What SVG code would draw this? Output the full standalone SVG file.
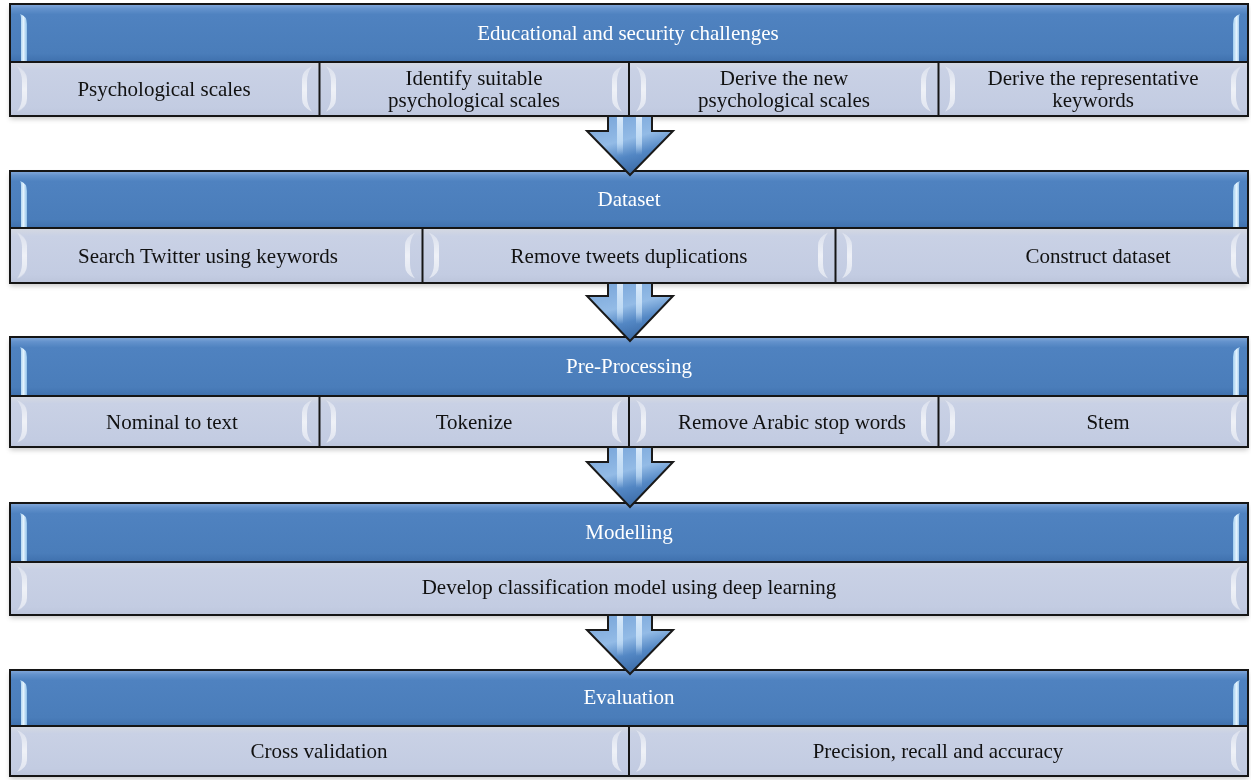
<svg xmlns="http://www.w3.org/2000/svg" xmlns:xlink="http://www.w3.org/1999/xlink" width="1251" height="780" viewBox="0 0 1251 780">
<style>
.hd{fill:url(#gHead);stroke:none}
.sb{fill:url(#gSub);stroke:none}
.frame{fill:none;stroke:#151515;stroke-width:2}
.ln{stroke:#151515;stroke-width:2}
.ht{font-family:"Liberation Serif","Times New Roman",serif;font-size:21px;fill:#ffffff;text-anchor:middle}
.st{font-family:"Liberation Serif","Times New Roman",serif;font-size:21px;fill:#111111;text-anchor:middle}
.hl{fill:url(#gHl)}
.br{fill:url(#gBr);opacity:0.8}
.arrow{fill:url(#gArrow);stroke:#1a1a1a;stroke-width:2;stroke-linejoin:miter}
.stripe{fill:url(#gStripe)}
</style>
<defs>
<linearGradient id="gHead" x1="0" y1="0" x2="0" y2="1">
<stop offset="0" stop-color="#86aadb"/>
<stop offset="0.08" stop-color="#6392cc"/>
<stop offset="0.18" stop-color="#4f82c0"/>
<stop offset="0.85" stop-color="#4a7dba"/>
<stop offset="1" stop-color="#3f70ad"/>
</linearGradient>
<linearGradient id="gSub" x1="0" y1="0" x2="0" y2="1">
<stop offset="0" stop-color="#d5d9e2"/>
<stop offset="0.15" stop-color="#c9d1e5"/>
<stop offset="0.85" stop-color="#c3cce2"/>
<stop offset="1" stop-color="#bcc5db"/>
</linearGradient>
<linearGradient id="gHl" x1="0" y1="0" x2="1" y2="0">
<stop offset="0" stop-color="#9fcdf0"/>
<stop offset="0.5" stop-color="#e4f3fd"/>
<stop offset="1" stop-color="#8fc0ea"/>
</linearGradient>
<linearGradient id="gBr" x1="0" y1="0" x2="0" y2="1">
<stop offset="0" stop-color="#ffffff" stop-opacity="0.4"/>
<stop offset="0.5" stop-color="#ffffff" stop-opacity="0.9"/>
<stop offset="1" stop-color="#ffffff" stop-opacity="0.6"/>
</linearGradient>
<linearGradient id="gArrow" x1="0" y1="0" x2="0.4" y2="1">
<stop offset="0" stop-color="#76a3d8"/>
<stop offset="0.5" stop-color="#93bbe6"/>
<stop offset="0.75" stop-color="#5387c4"/>
<stop offset="1" stop-color="#3d6da9"/>
</linearGradient>
<linearGradient id="gStripe" x1="0" y1="0" x2="0" y2="1">
<stop offset="0" stop-color="#eaf5ff" stop-opacity="0.85"/>
<stop offset="0.7" stop-color="#d4eafc" stop-opacity="0.6"/>
<stop offset="1" stop-color="#cfe6fb" stop-opacity="0"/>
</linearGradient>
<filter id="shadow" x="-2%" y="-10%" width="104%" height="125%">
<feDropShadow dx="0" dy="3" stdDeviation="2.5" flood-color="#000" flood-opacity="0.22"/>
</filter>
<path id="bl" d="M0 4 Q10 8 10 16 V34 Q10 42 0 46 Q5 40 5 32 V18 Q5 10 0 4Z"/>
<path id="brr" d="M0 4 Q-10 8 -10 16 V34 Q-10 42 0 46 Q-5 40 -5 32 V18 Q-5 10 0 4Z"/>
</defs>

<!-- Layer 1 -->
<g id="layer-1">
<rect x="10" y="4" width="1238" height="112" fill="#c5cde2" filter="url(#shadow)"/>
<rect class="hd" x="10" y="4" width="1238" height="58"/>
<rect class="sb" x="10" y="62" width="1238" height="54"/>
<path class="hl" d="M20 14 Q27 16 27 24 V62 H21 V18 Q21 15 20 14Z"/>
<path class="hl" d="M1240 14 Q1233 16 1233 24 V62 H1239 V18 Q1239 15 1240 14Z"/>
<g class="br">
<use href="#bl" transform="translate(17,62) scale(1,1.08)"/>
<use href="#brr" transform="translate(312,62) scale(1,1.08)"/>
<use href="#bl" transform="translate(326,62) scale(1,1.08)"/>
<use href="#brr" transform="translate(622,62) scale(1,1.08)"/>
<use href="#bl" transform="translate(636,62) scale(1,1.08)"/>
<use href="#brr" transform="translate(931,62) scale(1,1.08)"/>
<use href="#bl" transform="translate(945,62) scale(1,1.08)"/>
<use href="#brr" transform="translate(1241,62) scale(1,1.08)"/>
</g>
<line class="ln" x1="10" y1="62" x2="1248" y2="62"/>
<line class="ln" x1="319.5" y1="62" x2="319.5" y2="116"/>
<line class="ln" x1="629" y1="62" x2="629" y2="116"/>
<line class="ln" x1="938.5" y1="62" x2="938.5" y2="116"/>
<rect class="frame" x="10" y="4" width="1238" height="112"/>
<text class="ht" x="628" y="40">Educational and security challenges</text>
<text class="st" x="164" y="96">Psychological scales</text>
<text class="st" x="474" y="85">Identify suitable</text>
<text class="st" x="474" y="107">psychological scales</text>
<text class="st" x="784" y="85">Derive the new</text>
<text class="st" x="784" y="107">psychological scales</text>
<text class="st" x="1093" y="85">Derive the representative</text>
<text class="st" x="1093" y="107">keywords</text>
</g>

<!-- Layer 2 -->
<g id="layer-2">
<rect x="10" y="171" width="1238" height="112" fill="#c5cde2" filter="url(#shadow)"/>
<rect class="hd" x="10" y="171" width="1238" height="57"/>
<rect class="sb" x="10" y="228" width="1238" height="55"/>
<path class="hl" d="M20 181 Q27 183 27 191 V228 H21 V185 Q21 182 20 181Z"/>
<path class="hl" d="M1240 181 Q1233 183 1233 191 V228 H1239 V185 Q1239 182 1240 181Z"/>
<g class="br">
<use href="#bl" transform="translate(17,228) scale(1,1.1)"/>
<use href="#brr" transform="translate(415,228) scale(1,1.1)"/>
<use href="#bl" transform="translate(429,228) scale(1,1.1)"/>
<use href="#brr" transform="translate(828,228) scale(1,1.1)"/>
<use href="#bl" transform="translate(842,228) scale(1,1.1)"/>
<use href="#brr" transform="translate(1241,228) scale(1,1.1)"/>
</g>
<line class="ln" x1="10" y1="228" x2="1248" y2="228"/>
<line class="ln" x1="422.5" y1="228" x2="422.5" y2="283"/>
<line class="ln" x1="835.5" y1="228" x2="835.5" y2="283"/>
<rect class="frame" x="10" y="171" width="1238" height="112"/>
<text class="ht" x="629" y="206">Dataset</text>
<text class="st" x="208" y="263">Search Twitter using keywords</text>
<text class="st" x="629" y="263">Remove tweets duplications</text>
<text class="st" x="1098" y="263">Construct dataset</text>
</g>

<!-- Layer 3 -->
<g id="layer-3">
<rect x="10" y="337" width="1238" height="110" fill="#c5cde2" filter="url(#shadow)"/>
<rect class="hd" x="10" y="337" width="1238" height="59"/>
<rect class="sb" x="10" y="396" width="1238" height="51"/>
<path class="hl" d="M20 347 Q27 349 27 357 V396 H21 V351 Q21 348 20 347Z"/>
<path class="hl" d="M1240 347 Q1233 349 1233 357 V396 H1239 V351 Q1239 348 1240 347Z"/>
<g class="br">
<use href="#bl" transform="translate(17,396) scale(1,1.02)"/>
<use href="#brr" transform="translate(312,396) scale(1,1.02)"/>
<use href="#bl" transform="translate(326,396) scale(1,1.02)"/>
<use href="#brr" transform="translate(622,396) scale(1,1.02)"/>
<use href="#bl" transform="translate(636,396) scale(1,1.02)"/>
<use href="#brr" transform="translate(931,396) scale(1,1.02)"/>
<use href="#bl" transform="translate(945,396) scale(1,1.02)"/>
<use href="#brr" transform="translate(1241,396) scale(1,1.02)"/>
</g>
<line class="ln" x1="10" y1="396" x2="1248" y2="396"/>
<line class="ln" x1="319.5" y1="396" x2="319.5" y2="447"/>
<line class="ln" x1="629" y1="396" x2="629" y2="447"/>
<line class="ln" x1="938.5" y1="396" x2="938.5" y2="447"/>
<rect class="frame" x="10" y="337" width="1238" height="110"/>
<text class="ht" x="629" y="373">Pre-Processing</text>
<text class="st" x="172" y="429">Nominal to text</text>
<text class="st" x="474" y="429">Tokenize</text>
<text class="st" x="792" y="429">Remove Arabic stop words</text>
<text class="st" x="1108" y="429">Stem</text>
</g>

<!-- Layer 4 -->
<g id="layer-4">
<rect x="10" y="503" width="1238" height="112" fill="#c5cde2" filter="url(#shadow)"/>
<rect class="hd" x="10" y="503" width="1238" height="59"/>
<rect class="sb" x="10" y="562" width="1238" height="53"/>
<path class="hl" d="M20 513 Q27 515 27 523 V562 H21 V517 Q21 514 20 513Z"/>
<path class="hl" d="M1240 513 Q1233 515 1233 523 V562 H1239 V517 Q1239 514 1240 513Z"/>
<g class="br">
<use href="#bl" transform="translate(17,562) scale(1,1.06)"/>
<use href="#brr" transform="translate(1241,562) scale(1,1.06)"/>
</g>
<line class="ln" x1="10" y1="562" x2="1248" y2="562"/>
<rect class="frame" x="10" y="503" width="1238" height="112"/>
<text class="ht" x="629" y="539">Modelling</text>
<text class="st" x="629" y="594">Develop classification model using deep learning</text>
</g>

<!-- Layer 5 -->
<g id="layer-5">
<rect x="10" y="670" width="1238" height="106" fill="#c5cde2" filter="url(#shadow)"/>
<rect class="hd" x="10" y="670" width="1238" height="56"/>
<rect class="sb" x="10" y="726" width="1238" height="50"/>
<path class="hl" d="M20 680 Q27 682 27 690 V726 H21 V684 Q21 681 20 680Z"/>
<path class="hl" d="M1240 680 Q1233 682 1233 690 V726 H1239 V684 Q1239 681 1240 680Z"/>
<g class="br">
<use href="#bl" transform="translate(17,726)"/>
<use href="#brr" transform="translate(622,726)"/>
<use href="#bl" transform="translate(636,726)"/>
<use href="#brr" transform="translate(1241,726)"/>
</g>
<line class="ln" x1="10" y1="726" x2="1248" y2="726"/>
<line class="ln" x1="629" y1="726" x2="629" y2="776"/>
<rect class="frame" x="10" y="670" width="1238" height="106"/>
<text class="ht" x="629" y="704">Evaluation</text>
<text class="st" x="319" y="758">Cross validation</text>
<text class="st" x="938" y="758">Precision, recall and accuracy</text>
</g>

<!-- Connectors -->
<g id="connectors">
<g id="arrow-1">
<path class="arrow" d="M608 116 H652 V131 H673 L630 175 L587 131 H608 Z"/>
<rect class="stripe" x="617" y="117" width="6" height="38"/>
<rect class="stripe" x="636" y="117" width="6" height="38"/>
</g>
<g id="arrow-2">
<path class="arrow" d="M608 283 H652 V296 H673 L630 341 L587 296 H608 Z"/>
<rect class="stripe" x="617" y="284" width="6" height="40"/>
<rect class="stripe" x="636" y="284" width="6" height="40"/>
</g>
<g id="arrow-3">
<path class="arrow" d="M608 447 H652 V462 H673 L630 507 L587 462 H608 Z"/>
<rect class="stripe" x="617" y="448" width="6" height="40"/>
<rect class="stripe" x="636" y="448" width="6" height="40"/>
</g>
<g id="arrow-4">
<path class="arrow" d="M608 615 H652 V630 H673 L630 674 L587 630 H608 Z"/>
<rect class="stripe" x="617" y="616" width="6" height="40"/>
<rect class="stripe" x="636" y="616" width="6" height="40"/>
</g>
</g>
</svg>
